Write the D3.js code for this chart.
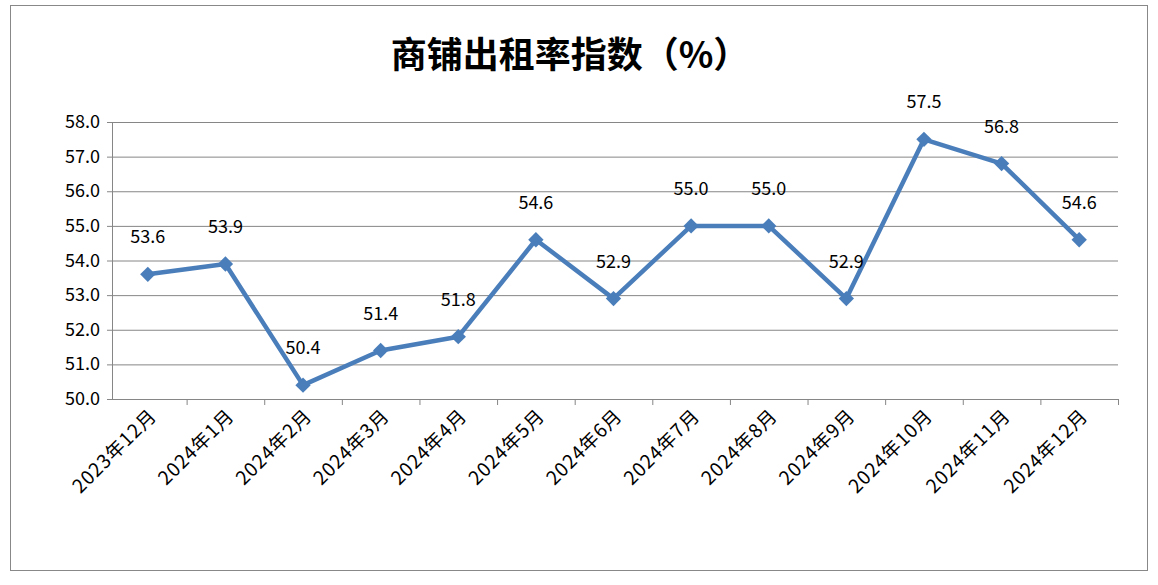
<!DOCTYPE html>
<html><head><meta charset="utf-8">
<script src="https://cdn.jsdelivr.net/npm/d3@7"></script>
<style>body{margin:0;background:#fff}</style>
</head><body>
<svg id="c" width="1158" height="585"></svg>
<script>
const categories=["2023年12月","2024年1月","2024年2月","2024年3月","2024年4月","2024年5月","2024年6月","2024年7月","2024年8月","2024年9月","2024年10月","2024年11月","2024年12月"];
const values=[53.6,53.9,50.4,51.4,51.8,54.6,52.9,55.0,55.0,52.9,57.5,56.8,54.6];
const yTicks=[50,51,52,53,54,55,56,57,58];
const title="商铺出租率指数（%）";
const font="'Noto Sans CJK SC','DejaVu Sans',sans-serif";
const svg=d3.select("#c");
svg.append("rect").attr("x",10.5).attr("y",5.5).attr("width",1137).attr("height",565).attr("fill","#fff").attr("stroke","#888");
const L=112,R=1118,T=122,B=399;
const x=d3.scaleBand().domain(categories).range([L-3,R]);
const y=d3.scaleLinear().domain([50,58]).range([B,T]);
svg.append("text").attr("x",570).attr("y",68).attr("text-anchor","middle").attr("font-family",font).attr("font-weight","bold").attr("font-size",36).text(title);
const g=svg.append("g");
g.selectAll("line.grid").data(yTicks).join("line").attr("x1",L).attr("x2",R).attr("y1",d=>y(d)+.5).attr("y2",d=>y(d)+.5).attr("stroke","#868686").attr("stroke-width",1);
g.append("line").attr("x1",L+.5).attr("x2",L+.5).attr("y1",T).attr("y2",B).attr("stroke","#868686");
g.selectAll("line.yt").data(yTicks).join("line").attr("x1",L-5).attr("x2",L).attr("y1",d=>y(d)+.5).attr("y2",d=>y(d)+.5).attr("stroke","#868686");
g.selectAll("text.yl").data(yTicks).join("text").attr("x",L-12).attr("y",d=>y(d)+6).attr("text-anchor","end").attr("font-family",font).attr("font-size",18).text(d=>d.toFixed(1));
const bounds=categories.map(c=>x(c)).slice(1).concat([R]);
g.selectAll("line.xt").data(bounds).join("line").attr("x1",d=>d+.5).attr("x2",d=>d+.5).attr("y1",B).attr("y2",B+6).attr("stroke","#868686");
g.selectAll("text.xl").data(categories).join("text")
 .attr("transform",d=>`translate(${x(d)+x.bandwidth()/2+10},${B+18}) rotate(-45)`)
 .attr("text-anchor","end").attr("font-family",font).attr("font-size",19).attr("letter-spacing",1).text(d=>d);
const cx=(d,i)=>x(categories[i])+x.bandwidth()/2;
g.append("path").datum(values).attr("fill","none").attr("stroke","#4a7ebb").attr("stroke-width",4.5).attr("stroke-linejoin","round")
 .attr("d",d3.line().x(cx).y(d=>y(d)));
g.selectAll("path.m").data(values).join("path").attr("d",d3.symbol(d3.symbolDiamond2,150)())
 .attr("transform",(d,i)=>`translate(${cx(d,i)},${y(d)})`).attr("fill","#4a7ebb");
g.selectAll("text.dl").data(values).join("text").attr("x",cx).attr("y",d=>y(d)-31).attr("text-anchor","middle")
 .attr("font-family",font).attr("font-size",18).text(d=>d.toFixed(1));
</script>
</body></html>
